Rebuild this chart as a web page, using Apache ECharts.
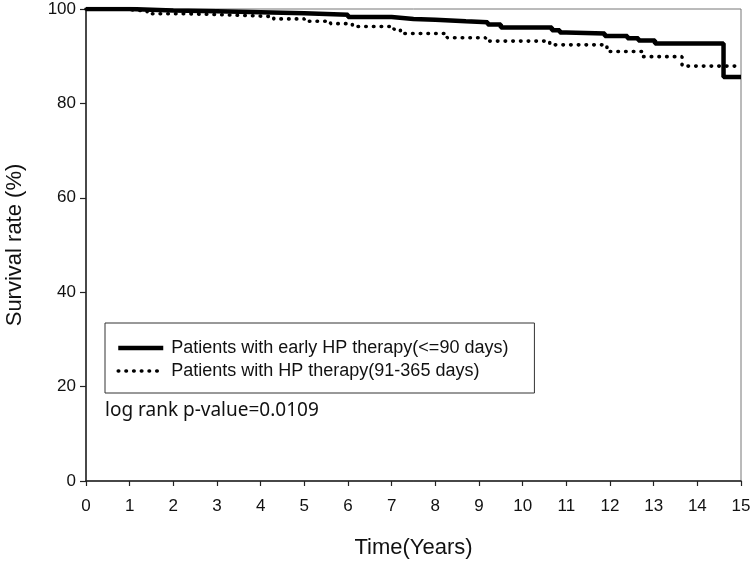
<!DOCTYPE html>
<html>
<head>
<meta charset="utf-8">
<script src="https://cdn.jsdelivr.net/npm/echarts@6/dist/echarts.min.js"></script>
<style>html,body{margin:0;padding:0;background:#fff}#c{width:753px;height:561px}</style>
</head>
<body>
<div id="c"></div>
<script>
var xTicks = [0,1,2,3,4,5,6,7,8,9,10,11,12,13,14,15];
var yTicks = [0,20,40,60,80,100];
var seriesNames = ['Patients with early HP therapy(<=90 days)', 'Patients with HP therapy(91-365 days)'];
var earlyTime = [0, 1, 2, 3, 4, 5, 6, 7, 7.5, 8, 8.7, 9.2, 9.5, 10.67, 10.85, 11.0, 11.88, 12.4, 12.65, 13.03, 14.6, 15];
var earlySurv = [100, 99.7, 99.5, 99.3, 99.1, 98.8, 98.3, 97.9, 97.7, 97.4, 97.2, 96.7, 96.1, 95.5, 95.0, 94.8, 94.3, 93.8, 93.3, 92.7, 85.6, 85.6];
var lateTime = [0, 0.8, 1.4, 2.3, 3.4, 4.3, 5.0, 5.6, 6.1, 7.05, 7.2, 8.27, 9.15, 10.62, 11.93, 12.75, 13.65, 15];
var lateSurv = [100, 99.6, 99.0, 98.7, 98.4, 97.9, 97.4, 96.9, 96.3, 95.7, 94.8, 93.9, 93.2, 92.4, 91.0, 89.9, 87.9, 87.9];
var pText = 'log rank p-value=0.0109';

function pairs(t, v){ return t.map(function(x,i){ return [x, v[i]]; }); }

var solidStyle = {color: '#000', width: 4.5, type: 'solid'};
var dotStyle = {color: '#000', width: 3.6, type: [0.5, 7.2], cap: 'round'};

var chart = echarts.init(document.getElementById('c'), null, {renderer:'canvas'});
var font = 'Liberation Sans, Arial, sans-serif';
chart.setOption({
  animation: false,
  backgroundColor: '#fff',
  grid: {left: 86, right: 12, top: 9, bottom: 80, containLabel: false, outerBoundsMode: 'none',
    show: true, borderColor: '#777', borderWidth: 1},
  title: {text: pText, left: 105, top: 401, padding: 0,
    textStyle: {fontFamily: 'Noto Sans, sans-serif', fontSize: 19, fontWeight: 'normal', color: '#111'}},
  legend: {
    orient: 'vertical', left: 105, top: 323,
    borderColor: '#333', borderWidth: 1,
    padding: [16, 26, 13, 11], itemGap: 5, itemWidth: 45, itemHeight: 18,
    itemStyle: {opacity: 0},
    textStyle: {fontFamily: font, fontSize: 18, color: '#111', padding: [0,0,0,3]},
    data: [
      {name: seriesNames[0], lineStyle: solidStyle},
      {name: seriesNames[1], lineStyle: dotStyle}
    ]
  },
  xAxis: {
    type: 'value', min: 0, max: 15, interval: 1,
    name: 'Time(Years)', nameLocation: 'middle', nameGap: 56,
    nameTextStyle: {fontFamily: font, fontSize: 22, color: '#111'},
    axisLine: {show: true, lineStyle: {color: '#222', width: 1.5}},
    axisTick: {show: true, inside: false, length: 5, lineStyle: {color: '#222', width: 1.2}},
    axisLabel: {margin: 17, fontFamily: font, fontSize: 17, color: '#111',
      formatter: function(v){ return xTicks.indexOf(v) >= 0 ? String(v) : ''; }},
    splitLine: {show: false}
  },
  yAxis: {
    type: 'value', min: 0, max: 100, interval: 20,
    name: 'Survival rate (%)', nameLocation: 'middle', nameGap: 60, nameRotate: 90,
    nameTextStyle: {fontFamily: font, fontSize: 22, color: '#111'},
    axisLine: {show: true, lineStyle: {color: '#222', width: 1.5}},
    axisTick: {show: true, inside: false, length: 6, lineStyle: {color: '#222', width: 1.2}},
    axisLabel: {margin: 10, fontFamily: font, fontSize: 17, color: '#111',
      formatter: function(v){ return yTicks.indexOf(v) >= 0 ? String(v) : ''; }},
    splitLine: {show: false}
  },
  series: [
    {name: seriesNames[0], type: 'line', step: 'end', showSymbol: false, symbol: 'none',
     data: pairs(earlyTime, earlySurv), lineStyle: solidStyle, itemStyle: {color: '#000'}},
    {name: seriesNames[1], type: 'line', step: 'end', showSymbol: false, symbol: 'none',
     data: pairs(lateTime, lateSurv), lineStyle: dotStyle, itemStyle: {color: '#000'}}
  ]
});
</script>
</body>
</html>
